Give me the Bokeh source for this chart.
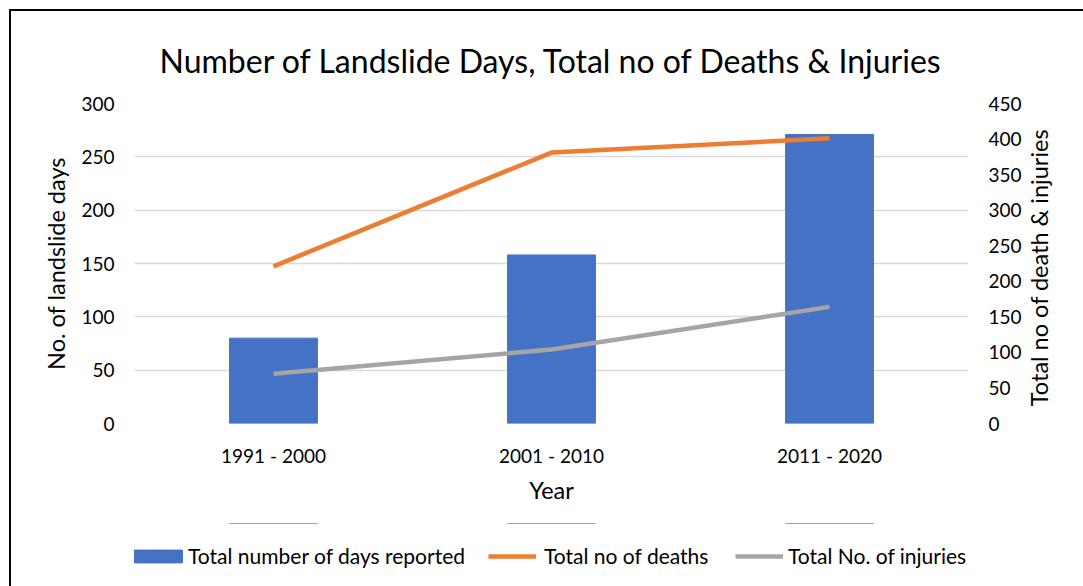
import math
from bokeh.plotting import figure
from bokeh.layouts import column
from bokeh.models import (ColumnDataSource, FactorRange, Range1d, LinearAxis, FixedTicker,
                          Legend, LegendItem, Title)
from bokeh.embed import file_html
from bokeh.resources import INLINE

periods = ["1991 - 2000", "2001 - 2010", "2011 - 2020"]
landslide_days = [80, 158, 271]
deaths = [221, 381, 401]
injuries = [70, 104, 164]

left_ticks = [0, 50, 100, 150, 200, 250, 300]
right_ticks = [0, 50, 100, 150, 200, 250, 300, 350, 400, 450]

series_names = ["Total number of days reported", "Total no of deaths", "Total No. of injuries"]
BLUE, ORANGE, GRAY = "#4472C4", "#ED7D31", "#A5A5A5"

FONT = "Lato"
src = ColumnDataSource(dict(period=periods, days=landslide_days, deaths=deaths, injuries=injuries))

p = figure(x_range=FactorRange(*periods, range_padding=0), y_range=Range1d(0, 300),
           width=1072, height=512, output_backend="svg", toolbar_location=None,
           min_border_left=123, min_border_right=115, min_border_top=92, min_border_bottom=100)
p.extra_y_ranges = {"right": Range1d(0, 450)}
p.outline_line_color = None
p.background_fill_color = "white"
p.border_fill_color = "white"

p.title = Title(text="Number of Landslide Days, Total no of Deaths & Injuries",
                text_font=FONT, text_font_size="32px", text_font_style="normal",
                text_color="#000000", align="center", standoff=48)

bars = p.vbar(x="period", top="days", width=0.316, source=src, color=BLUE)
l1 = p.line(x="period", y="deaths", source=src, line_color=ORANGE, line_width=4.5,
            y_range_name="right")
l2 = p.line(x="period", y="injuries", source=src, line_color=GRAY, line_width=4.5,
            y_range_name="right")

p.xgrid.grid_line_color = None
p.ygrid.grid_line_color = "#D9D9D9"
p.ygrid.grid_line_width = 1.5
p.ygrid.ticker = FixedTicker(ticks=left_ticks)

def style_axis(ax):
    ax.axis_line_color = None
    ax.major_tick_line_color = None
    ax.minor_tick_line_color = None
    ax.major_tick_out = 0
    ax.major_tick_in = 0
    ax.major_label_text_font = FONT
    ax.major_label_text_font_size = "19px"
    ax.major_label_text_color = "#000000"
    ax.axis_label_text_font = FONT
    ax.axis_label_text_font_size = "23.5px"
    ax.axis_label_text_font_style = "normal"
    ax.axis_label_text_color = "#000000"

yl = p.yaxis[0]
yl.ticker = FixedTicker(ticks=left_ticks)
yl.axis_label = "No. of landslide days"
style_axis(yl)
yl.major_label_standoff = 20
yl.axis_label_standoff = 8

yr = LinearAxis(y_range_name="right", ticker=FixedTicker(ticks=right_ticks),
                axis_label="\u00a0" * 3 + "Total no of death & injuries")
style_axis(yr)
yr.major_label_standoff = 20
yr.axis_label_standoff = 14
yr.axis_label_orientation = math.pi / 2
yr.axis_label_align = "start"
p.add_layout(yr, "right")

xa = p.xaxis[0]
xa.axis_label = "Year"
style_axis(xa)
xa.major_label_standoff = 20
xa.axis_label_standoff = 6

# legend strip below the chart: the same series drawn out of view, only their legends show
q = figure(x_range=p.x_range, y_range=Range1d(-1000, -999), width=1072, height=63,
           output_backend="svg", toolbar_location=None, min_border=0,
           x_axis_type=None, y_axis_type=None)
q.grid.visible = False
q.outline_line_color = None
q.background_fill_color = "white"
q.border_fill_color = "white"
rb = q.vbar(x="period", top="days", width=0.316, source=src, color=BLUE)
ro = q.line(x="period", y="deaths", source=src, line_color=ORANGE, line_width=4.5)
rg = q.line(x="period", y="injuries", source=src, line_color=GRAY, line_width=4.5)

def make_legend(name, rend, x, gw, gh, standoff):
    return Legend(items=[LegendItem(label=name, renderers=[rend])], location=(x, 18),
                  glyph_width=gw, glyph_height=gh, label_standoff=standoff,
                  label_text_font=FONT, label_text_font_size="21px",
                  label_text_color="#000000", border_line_color=None,
                  background_fill_alpha=0, padding=0, margin=0)

q.add_layout(make_legend(series_names[0], rb, -6, 60, 16, 0))
q.add_layout(make_legend(series_names[1], ro, 354, 48, 16, 8))
q.add_layout(make_legend(series_names[2], rg, 601, 48, 16, 5))

layout = column(p, q, spacing=0)
layout.styles = {"border-left": "2px solid #000", "border-top": "2px solid #000",
                 "margin-left": "9px", "margin-top": "9px"}

open("out.html", "w").write(file_html(layout, INLINE))
